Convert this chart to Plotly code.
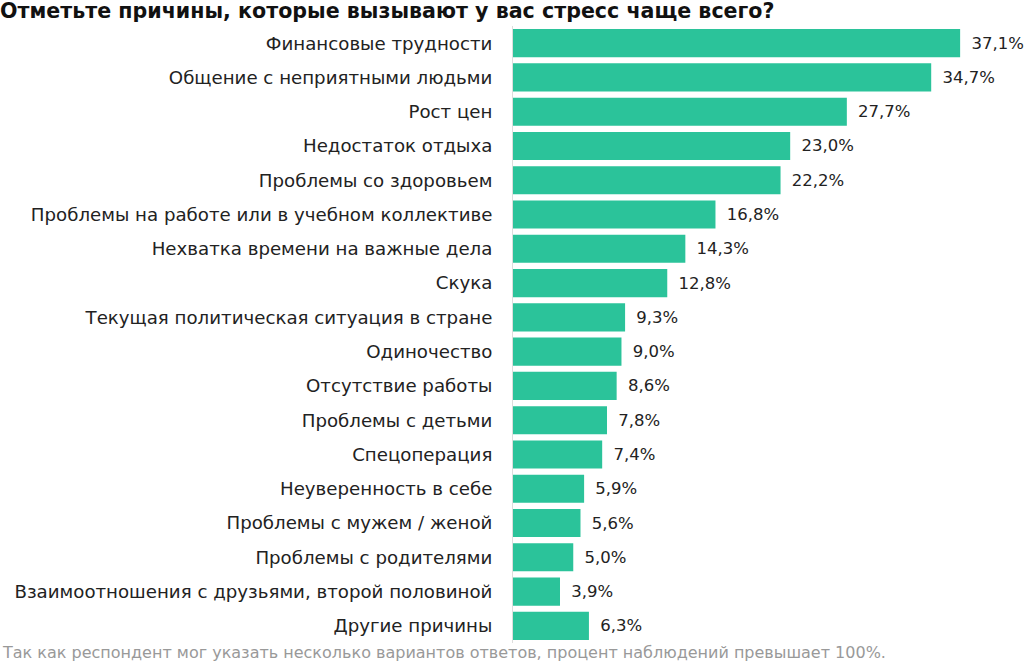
import plotly.graph_objects as go

categories = [
    "Финансовые трудности",
    "Общение с неприятными людьми",
    "Рост цен",
    "Недостаток отдыха",
    "Проблемы со здоровьем",
    "Проблемы на работе или в учебном коллективе",
    "Нехватка времени на важные дела",
    "Скука",
    "Текущая политическая ситуация в стране",
    "Одиночество",
    "Отсутствие работы",
    "Проблемы с детьми",
    "Спецоперация",
    "Неуверенность в себе",
    "Проблемы с мужем / женой",
    "Проблемы с родителями",
    "Взаимоотношения с друзьями, второй половиной",
    "Другие причины",
]
values = [37.1, 34.7, 27.7, 23.0, 22.2, 16.8, 14.3, 12.8, 9.3, 9.0, 8.6, 7.8, 7.4, 5.9, 5.6, 5.0, 3.9, 6.3]
labels = ["\u2002" + f"{v:.1f}%".replace(".", ",") for v in values]

FONT = "DejaVu Sans"

fig = go.Figure(go.Bar(
    x=values, y=categories, orientation="h",
    marker=dict(color="#2BC39A", line=dict(width=0)),
    text=labels, textposition="outside", cliponaxis=False,
    textfont=dict(family=FONT, size=16.5, color="#222222"),
))

fig.update_layout(
    width=1024, height=663,
    margin=dict(l=513, r=0, t=26, b=20),
    plot_bgcolor="white", paper_bgcolor="white",
    bargap=0.18,
    showlegend=False,
    title=dict(text="<b>Отметьте причины, которые вызывают у вас стресс чаще всего?</b>",
               x=0.0, xanchor="left", yref="container", y=1 - 11/663, yanchor="middle",
               pad=dict(t=0, b=0, l=0, r=0),
               font=dict(family=FONT, size=20.6, color="#111111")),
    xaxis=dict(range=[0, 42.4], visible=False, fixedrange=True),
    yaxis=dict(autorange="reversed", showgrid=False, zeroline=False,
               showline=True, linecolor="#dddddd", linewidth=1,
               ticks="", ticklabelstandoff=16,
               tickfont=dict(family=FONT, size=18.2, color="#222222")),
    annotations=[dict(
        text="Так как респондент мог указать несколько вариантов ответов, процент наблюдений превышает 100%.",
        xref="paper", yref="paper", x=-513/511, y=-9/617, xanchor="left", yanchor="middle",
        showarrow=False,
        font=dict(family=FONT, size=16, color="#999999"))],
)

fig.write_html("out.html")
